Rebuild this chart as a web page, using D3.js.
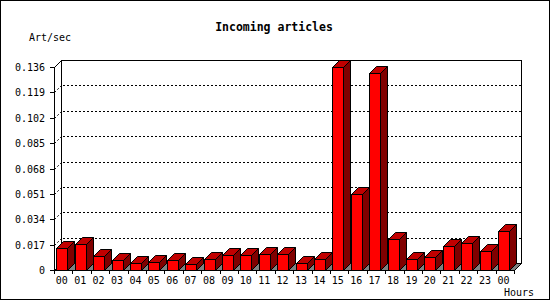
<!DOCTYPE html>
<html lang="en">
<head>
  <meta charset="UTF-8">
  <title>Incoming articles</title>
  <script src="https://d3js.org/d3.v7.min.js"></script>
  <style>
    body { margin: 0; background: #fff; }
    svg { display: block; }
    text { font-family: "DejaVu Sans Mono", "Liberation Mono", monospace; fill: #000; }
    .label { font-size: 10px; }
    .title { font-size: 11.5px; font-weight: bold; }
    .edge { fill: none; stroke: #000; stroke-width: 1; }
    .grid { fill: none; stroke: #000; stroke-width: 1; stroke-dasharray: 2,2; }
  </style>
</head>
<body>
  <svg id="chart" width="550" height="300"></svg>

  <script>
    // hourly incoming articles rate
    const hours = ["00","01","02","03","04","05","06","07","08","09","10","11",
                   "12","13","14","15","16","17","18","19","20","21","22","23","00"];
    const rates = [0.0147, 0.0174, 0.0094, 0.0067, 0.0047, 0.0054, 0.0067, 0.0040,
                   0.0074, 0.0100, 0.0100, 0.0107, 0.0107, 0.0047, 0.0074, 0.1358,
                   0.0509, 0.1320, 0.0208, 0.0074, 0.0087, 0.0161, 0.0181, 0.0127, 0.0261];
    const yTicks = [0, 0.017, 0.034, 0.051, 0.068, 0.085, 0.102, 0.119, 0.136];

    const svg = d3.select("#chart");
    const dx = 7, dy = 7;        // depth of the 3d look
    const plotLeft = 54, plotRight = 514, plotBottom = 270, plotTop = 67;
    const barOff = 2.3, barW = 11;

    const x = d3.scaleBand()
      .domain(d3.range(hours.length))
      .range([plotLeft, plotRight])
      .padding(0);

    const y = d3.scaleLinear()
      .domain([0, 0.136])
      .range([plotBottom, plotTop]);

    // outer frame
    svg.append("rect")
      .attr("x", 0.5).attr("y", 0.5)
      .attr("width", 549).attr("height", 299)
      .attr("fill", "#fff").attr("stroke", "#000");

    svg.append("text")
      .attr("class", "title")
      .attr("x", 274).attr("y", 31)
      .attr("text-anchor", "middle")
      .text("Incoming articles");

    svg.append("text")
      .attr("class", "label")
      .attr("x", 29).attr("y", 41)
      .text("Art/sec");

    svg.append("text")
      .attr("class", "label")
      .attr("x", 504).attr("y", 296)
      .text("Hours");

    const g = svg.append("g").attr("shape-rendering", "crispEdges");

    // back wall
    g.append("rect")
      .attr("class", "edge")
      .attr("x", plotLeft + dx + 0.5).attr("y", Math.round(y(0.136)) - dy + 0.5)
      .attr("width", plotRight - plotLeft)
      .attr("height", Math.round(y(0)) - Math.round(y(0.136)));

    // dotted grid on back wall and side wall
    const inner = yTicks.slice(1, -1);
    g.selectAll(".hgrid")
      .data(inner)
      .enter().append("line")
      .attr("class", "grid")
      .attr("x1", plotLeft + dx + 2).attr("x2", plotRight + dx)
      .attr("y1", d => Math.round(y(d)) - dy + 0.5)
      .attr("y2", d => Math.round(y(d)) - dy + 0.5);

    svg.selectAll(".dgrid")
      .data(inner)
      .enter().append("line")
      .attr("class", "grid")
      .attr("x1", plotLeft + 0.5).attr("x2", plotLeft + dx + 0.5)
      .attr("y1", d => Math.round(y(d)) + 0.5)
      .attr("y2", d => Math.round(y(d)) - dy + 0.5);

    // floor
    svg.append("path")
      .attr("d", `M${plotLeft + 0.5},${plotBottom + 0.5}L${plotLeft + dx + 0.5},${plotBottom - dy + 0.5}` +
                 `L${plotRight + dx + 0.5},${plotBottom - dy + 0.5}L${plotRight + 0.5},${plotBottom + 0.5}Z`)
      .attr("fill", "#808080")
      .attr("stroke", "#000");

    // side diagonal at top-left
    svg.append("line")
      .attr("class", "edge")
      .attr("x1", plotLeft + 0.5).attr("y1", Math.round(y(0.136)) + 0.5)
      .attr("x2", plotLeft + dx + 0.5).attr("y2", Math.round(y(0.136)) - dy + 0.5);

    // bars
    const bars = svg.append("g").selectAll("g")
      .data(rates)
      .enter().append("g");

    bars.each(function (d, i) {
      const b = d3.select(this);
      const x0 = Math.round(x(i) + barOff) + 0.5;
      const x1 = x0 + barW;
      const yt = Math.round(y(d)) + 0.5;
      const yb = plotBottom + 0.5;
      b.append("path")
        .attr("d", `M${x0},${yt}L${x0 + dx},${yt - dy}L${x1 + dx},${yt - dy}L${x1},${yt}Z`)
        .attr("fill", "#c00000").attr("stroke", "#000");
      b.append("path")
        .attr("d", `M${x1},${yt}L${x1 + dx},${yt - dy}L${x1 + dx},${yb - dy}L${x1},${yb}Z`)
        .attr("fill", "#800000").attr("stroke", "#000");
      b.append("rect")
        .attr("x", x0).attr("y", yt)
        .attr("width", barW).attr("height", yb - yt)
        .attr("fill", "#ff0000").attr("stroke", "#000");
    });

    // front axes
    const ax = svg.append("g").attr("shape-rendering", "crispEdges");
    ax.append("line")
      .attr("class", "edge")
      .attr("x1", plotLeft + 0.5).attr("x2", plotLeft + 0.5)
      .attr("y1", Math.round(y(0.136))).attr("y2", plotBottom + 1);
    ax.append("line")
      .attr("class", "edge")
      .attr("x1", plotLeft).attr("x2", plotRight + 1)
      .attr("y1", plotBottom + 0.5).attr("y2", plotBottom + 0.5);

    ax.selectAll(".ytick")
      .data(yTicks)
      .enter().append("line")
      .attr("class", "edge")
      .attr("x1", plotLeft - 4).attr("x2", plotLeft)
      .attr("y1", d => Math.round(y(d)) + 0.5)
      .attr("y2", d => Math.round(y(d)) + 0.5);

    svg.selectAll(".ylab")
      .data(yTicks)
      .enter().append("text")
      .attr("class", "label")
      .attr("x", 45)
      .attr("y", d => Math.round(y(d)) + 4)
      .attr("text-anchor", "end")
      .text(d => d === 0 ? "0" : d.toFixed(3));

    const xTicks = d3.range(hours.length + 1);
    ax.selectAll(".xtick")
      .data(xTicks)
      .enter().append("line")
      .attr("class", "edge")
      .attr("x1", i => Math.round(plotLeft + i * x.step()) + 0.5)
      .attr("x2", i => Math.round(plotLeft + i * x.step()) + 0.5)
      .attr("y1", plotBottom).attr("y2", plotBottom + 4);

    svg.selectAll(".xlab")
      .data(hours)
      .enter().append("text")
      .attr("class", "label")
      .attr("x", (d, i) => x(i) + barOff + barW / 2)
      .attr("y", 284)
      .attr("text-anchor", "middle")
      .text(d => d);
  </script>
</body>
</html>
